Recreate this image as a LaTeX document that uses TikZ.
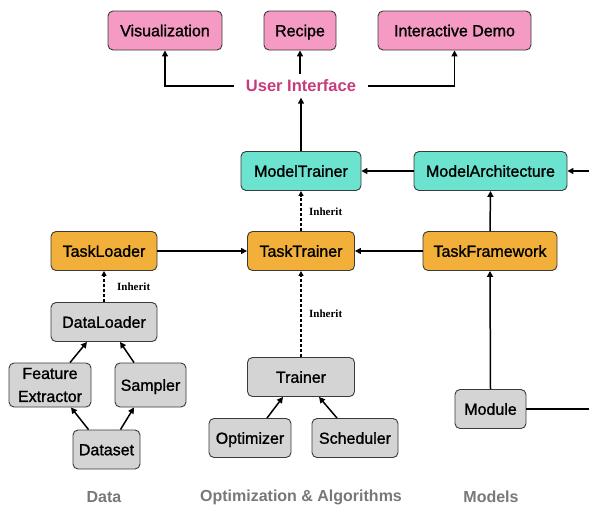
\documentclass[tikz,border=0pt]{standalone}
\usepackage{fontspec}
\setmainfont{Liberation Sans}
\newfontfamily\boxfont[FakeBold=1.2]{Liberation Sans}
\newfontfamily\inheritfont{Liberation Serif}
\usepackage{xcolor}
\usetikzlibrary{arrows.meta}
\definecolor{pinkfill}{HTML}{F49AC3}
\definecolor{tealfill}{HTML}{6BE3CF}
\definecolor{orangefill}{HTML}{F2B03B}
\definecolor{grayfill}{HTML}{D4D4D4}
\definecolor{boxborder}{HTML}{3A3A3A}
\definecolor{uicolor}{HTML}{C63B7B}
\definecolor{groupgray}{HTML}{787878}
\tikzset{
boxbase/.style={rectangle, rounded corners=5pt, draw=boxborder, line width=0.9pt, inner sep=0pt, minimum height=39pt, font=\boxfont\fontsize{16}{19}\selectfont, align=center},
boxv1/.style={boxbase, text height=11.5pt, text depth=0pt},
pinkboxv1/.style={boxv1, fill=pinkfill},
tealboxv1/.style={boxv1, fill=tealfill},
orangeboxv1/.style={boxv1, fill=orangefill},
grayboxv1/.style={boxv1, fill=grayfill},
grayboxv2/.style={boxbase, fill=grayfill},
uinode/.style={inner xsep=12pt, inner ysep=6pt, text height=11pt, text depth=0pt, text=uicolor, font=\fontsize{16.5}{18}\selectfont\bfseries},
inheritlabel/.style={inner sep=0pt, anchor=west, font=\inheritfont\fontsize{11}{12}\selectfont\bfseries},
grouplabel/.style={inner sep=0pt, text=groupgray, font=\fontsize{16}{18}\selectfont\bfseries},
arrowv1/.style={draw=black, line width=1.5pt, -{Triangle[length=6pt,width=6pt]}},
linev1/.style={draw=black, line width=1.5pt},
inheritarrow/.style={draw=black, line width=1.3pt, dash pattern=on 3pt off 2pt, -{Triangle[length=5pt,width=5pt]}},
}
\begin{document}
\begin{tikzpicture}[x=1pt,y=-1pt]
  \useasboundingbox (0,0) rectangle (589,507);

  \node[pinkboxv1, minimum width=114pt] at (165,30.5) (vis) {Visualization};
  \node[pinkboxv1, minimum width=72pt] at (300,30.5) (recipe) {Recipe};
  \node[pinkboxv1, minimum width=153pt] at (454.5,30.5) (demo) {Interactive Demo};
  \node[uinode] at (301,86) (ui) {User Interface};

  \node[tealboxv1, minimum width=120pt] at (301,171) (mt) {ModelTrainer};
  \node[tealboxv1, minimum width=153pt] at (490.5,171) (ma) {ModelArchitecture};

  \node[orangeboxv1, minimum width=106pt] at (104,251) (tl) {TaskLoader};
  \node[orangeboxv1, minimum width=107pt] at (301,251) (tt) {TaskTrainer};
  \node[orangeboxv1, minimum width=134pt] at (490,251) (tf) {TaskFramework};

  \node[grayboxv1, minimum width=106pt] at (104,322) (dl) {DataLoader};
  \node[grayboxv2, minimum width=82pt, minimum height=44pt] at (50,385) (fe) {Feature\\[4pt]Extractor};
  \node[grayboxv1, minimum width=71pt, minimum height=44pt] at (150.5,385) (sampler) {Sampler};
  \node[grayboxv1, minimum width=67pt] at (106.5,449.5) (ds) {Dataset};

  \node[grayboxv1, minimum width=107pt] at (301,377) (trainer) {Trainer};
  \node[grayboxv1, minimum width=82pt] at (250,438) (opt) {Optimizer};
  \node[grayboxv1, minimum width=86pt] at (355,438) (sched) {Scheduler};

  \node[grayboxv1, minimum width=71pt] at (490.5,409) (module) {Module};

  \node[inheritlabel] at (117,287) (inhtl) {Inherit};
  \node[inheritlabel] at (309,212) (inhmt) {Inherit};
  \node[inheritlabel] at (309,314) (inhtt) {Inherit};

  \node[grouplabel] at (104,497) (gdata) {Data};
  \node[grouplabel] at (301,497) (gopt) {Optimization \& Algorithms};
  \node[grouplabel] at (491,497) (gmodels) {Models};

  \coordinate (maright) at (589,171);
  \coordinate (moduleright) at (589,409);

  \draw[arrowv1] (ui.west) -| (vis.south);
  \draw[arrowv1] (ui.east) -| (demo.south);
  \draw[arrowv1] (recipe.south |- ui.north) to (recipe.south);
  \draw[arrowv1] (mt.north) to (ui.south);

  \draw[arrowv1] (maright) to (ma.east);
  \draw[arrowv1] (ma.west) to (mt.east);
  \draw[arrowv1] (tf.north) to (ma.south);
  \draw[arrowv1] (tf.west) to (tt.east);
  \draw[arrowv1] (tl.east) to (tt.west);
  \draw[arrowv1] (module.north) to (tf.south);
  \draw[linev1] (module.east) to (moduleright);

  \draw[inheritarrow] (tt.north) to (mt.south);
  \draw[inheritarrow] (trainer.north) to (tt.south);
  \draw[inheritarrow] (dl.north) to (tl.south);

  \draw[arrowv1] ([xshift=-18pt]ds.north) to ([xshift=21pt]fe.south);
  \draw[arrowv1] ([xshift=14pt]ds.north) to ([xshift=-16.5pt]sampler.south);
  \draw[arrowv1] ([xshift=20pt]fe.north) to ([xshift=-17pt]dl.south);
  \draw[arrowv1] ([xshift=-16.5pt]sampler.north) to ([xshift=16pt]dl.south);
  \draw[arrowv1] ([xshift=17pt]opt.north) to ([xshift=-18pt]trainer.south);
  \draw[arrowv1] ([xshift=-18pt]sched.north) to ([xshift=18pt]trainer.south);
\end{tikzpicture}
\end{document}
